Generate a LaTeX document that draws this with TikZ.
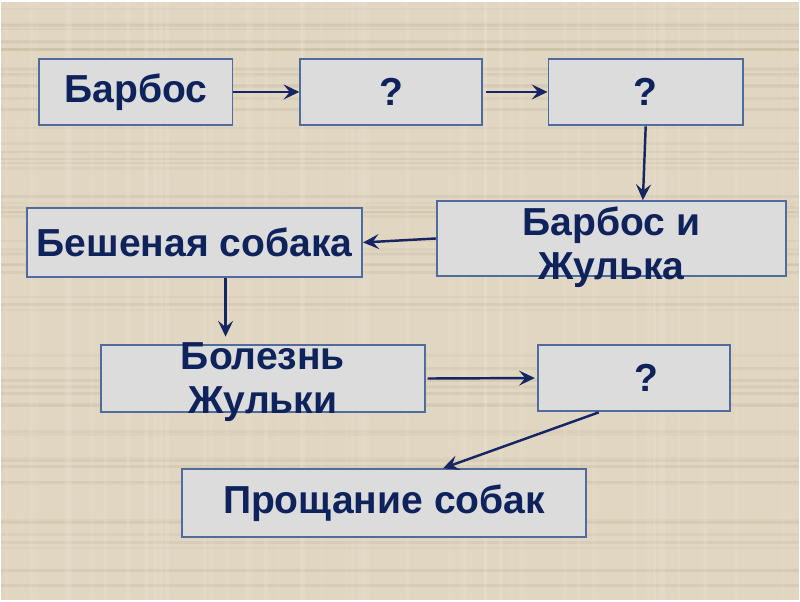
\documentclass[tikz,border=0pt]{standalone}
\usepackage{fontspec}
\setmainfont{Liberation Sans}
\usetikzlibrary{positioning,arrows.meta,calc}
\definecolor{bgbeige}{RGB}{224,214,194}
\definecolor{bgdark}{RGB}{175,160,130}
\definecolor{bglight}{RGB}{242,234,218}
\definecolor{boxfill}{RGB}{220,220,220}
\definecolor{boxline}{RGB}{80,108,158}
\definecolor{navy}{RGB}{14,34,92}
\definecolor{arrowblue}{RGB}{22,38,100}
\tikzset{
	blk/.style={draw=boxline, line width=1.1pt, fill=boxfill, inner sep=0pt,
		minimum height=1.34cm, font=\fontsize{22.3}{25}\selectfont\bfseries, text=navy},
	txt/.style={align=center, font=\fontsize{22.3}{25}\selectfont\bfseries, text=navy},
	link/.style={->, draw=arrowblue, line width=1.4pt},
}
\begin{document}
\begin{tikzpicture}[x=0.02cm, y=-0.02cm, >={Stealth[length=9pt, width=8.5pt, inset=3.5pt]}]
	% canvas
	\fill[bgbeige] (0,0) rectangle (800,600);
	\pgfmathsetseed{7}
	\foreach \k in {1,...,60} {
		\pgfmathsetmacro{\yy}{5+rnd*590}
		\pgfmathsetmacro{\oo}{0.06+0.14*rnd}
		\draw[bgdark, opacity=\oo, line width=1.5pt] (0,\yy) -- (800,\yy);
	}
	\foreach \k in {1,...,60} {
		\pgfmathsetmacro{\xx}{5+rnd*790}
		\pgfmathsetmacro{\oo}{0.06+0.14*rnd}
		\draw[bglight, opacity=\oo, line width=2pt] (\xx,0) -- (\xx,600);
	}
	% boxes
	\node[blk, minimum width=3.88cm] (bar) at (135, 90.5) {Барбос};
	\node[blk, minimum width=3.64cm] (q1) at (391, 90.5) {?};
	\node[blk, minimum width=3.9cm] (q2) at (646.5, 90.5) {?};
	\node[blk, minimum width=7cm, minimum height=1.5cm,
		label={[txt, yshift=-5pt]center:Барбос и\\Жулька}] (bj) at (612, 237.5) {};
	\node[blk, minimum width=6.72cm, minimum height=1.38cm] (bes) at (194, 241.5) {Бешеная собака};
	\node[blk, minimum width=6.5cm, minimum height=1.36cm,
		label={[txt, yshift=-2pt]center:Болезнь\\Жульки}] (bol) at (262.5, 378) {};
	\node[blk, minimum width=3.86cm,
		label={[txt, xshift=7pt]center:?}] (q3) at (634.5, 377.5) {};
	\node[blk, minimum width=8.12cm, minimum height=1.36cm] (pro) at (384, 503) {Прощание собак};
	% arrows
	\draw[link] (bar) -- (q1);
	\draw[link] ([xshift=2pt]q1.east) -- (q2.west);
	\draw[link] (q2.south) -- ($(bj.north west)!0.59!(bj.north east)$);
	\draw[link] (bj.west) -- (bes.east);
	\draw[link, shorten >=4pt] ([xshift=0.62cm]bes.south) -- ([xshift=0.62cm]bes.south |- bol.north);
	\draw[link] ([xshift=1pt]bol.east) -- ([xshift=-1pt]q3.west);
	\draw[link] ($(q3.south west)!0.32!(q3.south east)$) -- ($(pro.north west)!0.645!(pro.north east)$);
\end{tikzpicture}
\end{document}
